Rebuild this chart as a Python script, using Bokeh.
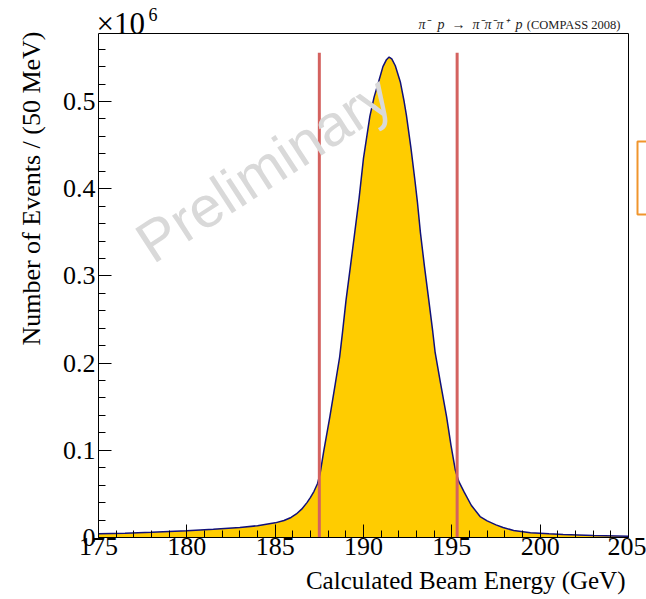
import math
from bokeh.plotting import figure
from bokeh.models import Range1d, FixedTicker, Label, Title, BoxAnnotation
from bokeh.embed import file_html
from bokeh.resources import INLINE

# ---- data ----
energy_gev = [175.0, 176.5, 178.0, 180.0, 181.5, 183.0, 184.0, 185.0, 185.5, 185.9,
              186.2, 186.5, 186.8, 187.0, 187.2, 187.4, 187.55, 187.75, 188.1, 188.4,
              188.65, 188.81, 189.01, 189.26, 189.5, 189.75, 190.0, 190.36, 190.6, 190.86,
              191.1, 191.3, 191.45, 191.6, 191.8, 192.09, 192.3, 192.43, 192.69, 192.92,
              193.05, 193.22, 193.45, 193.69, 193.92, 194.05, 194.36, 194.7, 194.95, 195.2,
              195.4, 195.7, 196.1, 196.6, 197.0, 197.5, 197.9, 198.5, 199.45, 200.5,
              201.3, 203.0, 205.0]
events_1e6 = [0.0042, 0.0050, 0.0060, 0.0078, 0.0095, 0.0115, 0.0135, 0.0168, 0.0195, 0.0230,
              0.0270, 0.0325, 0.0400, 0.0460, 0.0530, 0.0620, 0.0740, 0.0990, 0.139, 0.176,
              0.207, 0.235, 0.272, 0.311, 0.349, 0.389, 0.435, 0.483, 0.505, 0.523,
              0.540, 0.548, 0.551, 0.549, 0.541, 0.522, 0.500, 0.484, 0.446, 0.408,
              0.385, 0.350, 0.311, 0.273, 0.236, 0.213, 0.177, 0.139, 0.106, 0.077,
              0.064, 0.052, 0.037, 0.024, 0.019, 0.0145, 0.0115, 0.0080, 0.0055, 0.0042,
              0.0035, 0.0024, 0.0015]
cut_edges_gev = [187.5, 195.3]
cut_line_top_1e6 = 0.556

x_range_gev = [175, 205]
y_range_1e6 = [0.0, 0.578]
x_ticks = [175, 180, 185, 190, 195, 200, 205]
x_minor_ticks = list(range(175, 206))
y_ticks = [0.0, 0.1, 0.2, 0.3, 0.4, 0.5]
y_minor_ticks = [round(0.02 * i, 2) for i in range(0, 29)]

x_label = "Calculated Beam Energy (GeV)"
y_label = "Number of Events / (50 MeV)"
NB = "\u00a0"
reaction_text = ("\u03c0\u207b" + NB * 2 + "p" + NB * 2 + "\u2192" + NB * 2 +
                 "\u03c0\u207b\u03c0\u207b\u03c0\u207a" + NB * 2 + "p")
experiment_text = "(COMPASS 2008)"
watermark_text = "Preliminary"

# ---- layout (pixel geometry of the drawing box) ----
W, H = 646, 599
BOX_L, BOX_R, BOX_T, BOX_B = 98, 628, 33, 537
X0, X1 = x_range_gev
Y0, Y1 = y_range_1e6
XS = (BOX_R - BOX_L) / (X1 - X0)      # px per GeV
YS = (BOX_B - BOX_T) / (Y1 - Y0)      # px per 1e6 events
# the plotting frame spans the canvas above/right of the box so texts there are not clipped
FX1 = X0 + (W - BOX_L) / XS
FY1 = Y0 + BOX_B / YS

def dx(px):
    return X0 + (px - BOX_L) / XS

def dy(py):
    return Y0 + (BOX_B - py) / YS

SERIF = "Liberation Serif"

p = figure(width=W, height=H, output_backend="svg", toolbar_location=None,
           x_range=Range1d(X0, FX1), y_range=Range1d(Y0, FY1),
           min_border_left=BOX_L, min_border_right=0, min_border_top=0,
           min_border_bottom=H - BOX_B)
p.grid.visible = False
p.background_fill_color = "white"
p.border_fill_color = "white"
p.outline_line_color = None

p.varea(x=energy_gev, y1=[0] * len(energy_gev), y2=events_1e6, fill_color="#ffcc00")
p.line(x=energy_gev, y=events_1e6, line_color="#10107a", line_width=1.5)
p.segment(x0=cut_edges_gev, y0=[0, 0], x1=cut_edges_gev,
          y1=[cut_line_top_1e6] * 2, line_color="#d4625f", line_width=3)

# box outline around the histogram area
p.add_layout(BoxAnnotation(left=X0, right=X1, bottom=Y0, top=Y1, fill_alpha=0,
                           line_color="black", line_alpha=1.0, line_width=1))

for ax in (p.xaxis[0], p.yaxis[0]):
    ax.major_tick_in = 13
    ax.major_tick_out = 0
    ax.minor_tick_in = 7
    ax.minor_tick_out = 0
    ax.axis_line_color = "black"
    ax.major_tick_line_color = "black"
    ax.minor_tick_line_color = "black"
    ax.major_label_text_font = SERIF
    ax.major_label_text_font_size = "26px"
    ax.major_label_text_color = "black"

p.xaxis[0].bounds = (X0, X1)
p.yaxis[0].bounds = (Y0, Y1)
p.xaxis[0].ticker = FixedTicker(ticks=x_ticks, minor_ticks=x_minor_ticks)
p.xaxis[0].major_label_standoff = 0
# tiny blank axis label: only spaces the x title a few pixels lower
p.xaxis[0].axis_label = " "
p.xaxis[0].axis_label_text_font_size = "1px"
p.xaxis[0].axis_label_standoff = 5
p.yaxis[0].ticker = FixedTicker(ticks=y_ticks, minor_ticks=y_minor_ticks)
p.yaxis[0].major_label_standoff = 3
p.yaxis[0].major_label_overrides = {0: "0", 0.1: "0.1", 0.2: "0.2", 0.3: "0.3",
                                    0.4: "0.4", 0.5: "0.5"}

# axis titles
p.add_layout(Title(text=x_label, align="right", vertical_align="top",
                   offset=W - 625, standoff=0,
                   text_font=SERIF, text_font_size="25px", text_font_style="normal",
                   text_color="black"), "below")
p.add_layout(Title(text=y_label, align="right", offset=31, standoff=28,
                   text_font=SERIF, text_font_size="26px", text_font_style="normal",
                   text_color="black"), "left")

# exponent of the y axis
p.add_layout(Label(x=dx(96), y=dy(22.5), text="\u00d710", text_font=SERIF,
                   text_font_size="31px", text_align="left",
                   text_baseline="alphabetic", text_color="black"))
p.add_layout(Label(x=dx(148), y=dy(14), text="6", text_font=SERIF,
                   text_font_size="18px", text_align="left",
                   text_baseline="alphabetic", text_color="black"))

# reaction title
p.add_layout(Label(x=dx(522), y=dy(24), text=reaction_text, text_font=SERIF,
                   text_font_style="italic", text_font_size="14px",
                   text_align="right", text_baseline="alphabetic", text_color="#222222"))
p.add_layout(Label(x=dx(620), y=dy(24), text=experiment_text, text_font=SERIF,
                   text_font_size="12.5px", text_align="right",
                   text_baseline="alphabetic", text_color="#222222"))

# watermark
p.add_layout(Label(x=dx(263), y=dy(168), text=watermark_text,
                   text_font="Liberation Sans", text_font_size="58px",
                   text_align="center", text_baseline="middle",
                   angle=math.radians(33), text_color="#d9d9d9"))

# orange frame fragment at the right edge of the slide
p.add_layout(BoxAnnotation(left=dx(637), right=dx(660), top=dy(141), bottom=dy(214),
                           fill_alpha=0, line_color="#f0952c", line_alpha=1.0,
                           line_width=2))

open("out.html", "w").write(file_html(p, INLINE))
